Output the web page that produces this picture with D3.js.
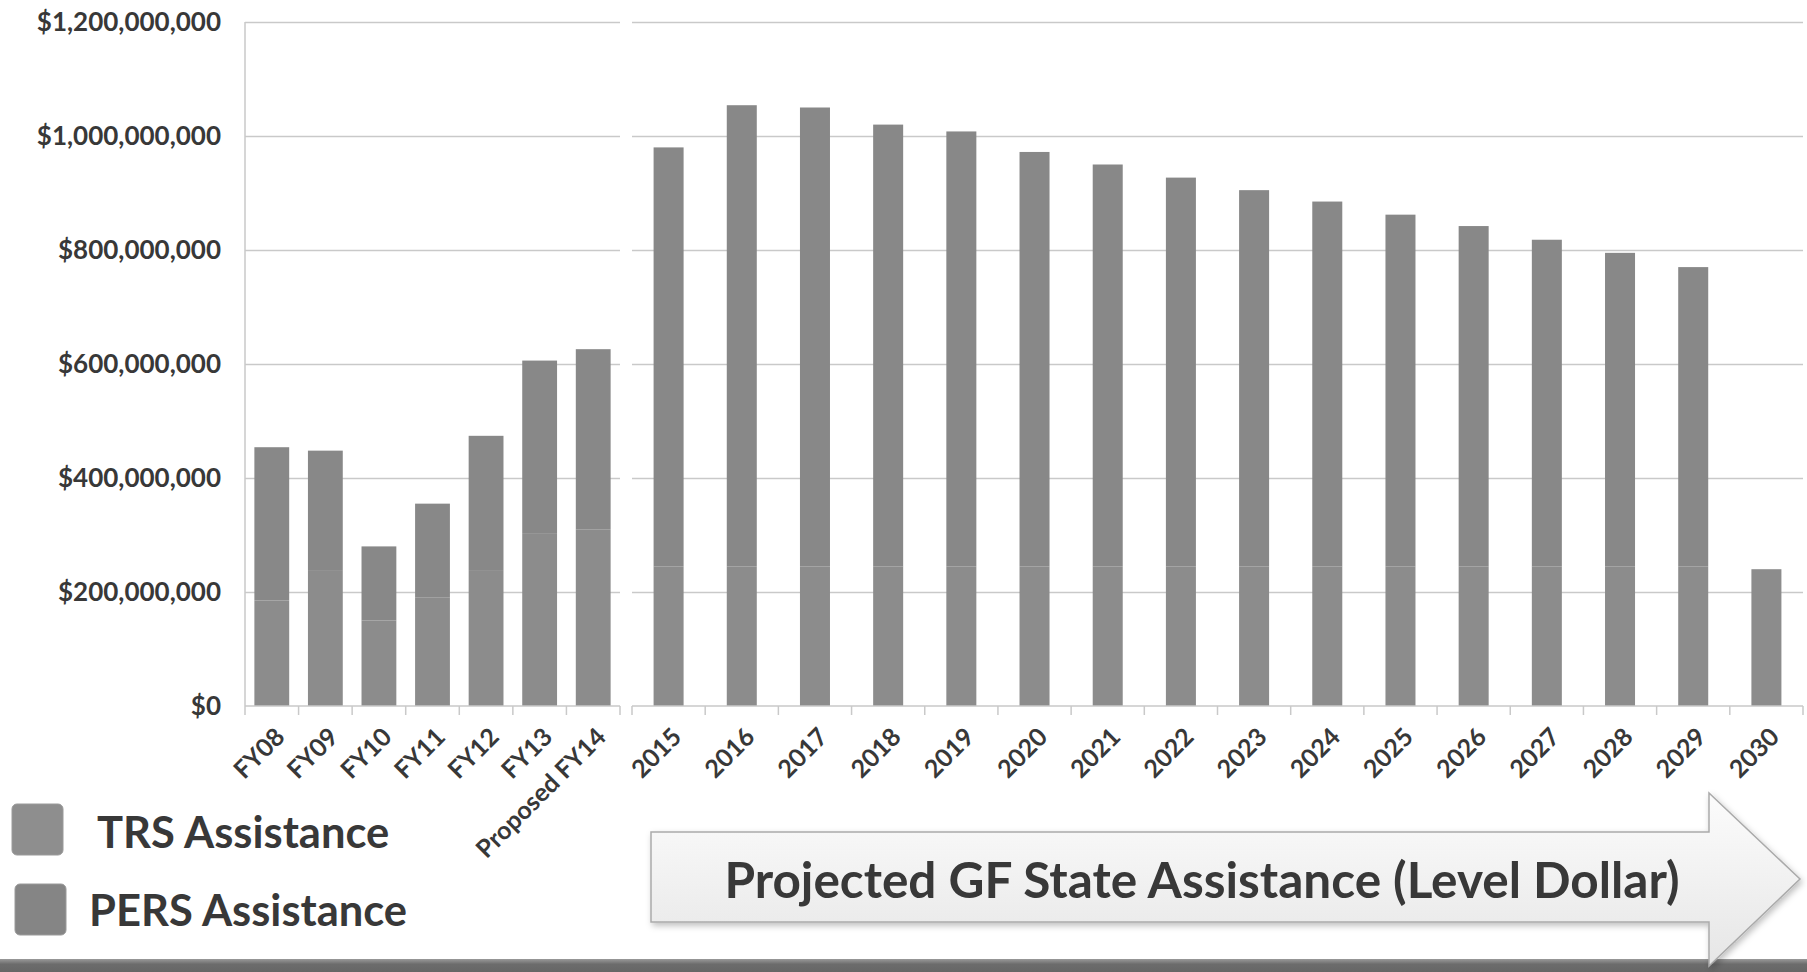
<!DOCTYPE html>
<html>
<head>
<meta charset="utf-8">
<script src="https://cdn.jsdelivr.net/npm/d3@7"></script>
<style>
    body { margin: 0; background: #fff; }
    svg { display: block; }
    text { font-family: Lato, "Open Sans", sans-serif; font-weight: 700; }
</style>
</head>
<body>
<div id="chart"></div>
<script>
// values in millions of dollars
const pastYears = ["FY08", "FY09", "FY10", "FY11", "FY12", "FY13", "Proposed FY14"];
const pastTrs = [185, 237, 150, 190, 237, 302, 310];
const pastPers = [269, 211, 130, 165, 237, 304, 316];

const projYears = ["2015", "2016", "2017", "2018", "2019", "2020", "2021", "2022",
    "2023", "2024", "2025", "2026", "2027", "2028", "2029", "2030"];
const projTrs = [245, 245, 245, 245, 245, 245, 245, 245, 245, 245, 245, 245, 245, 245, 245, 240];
const projPers = [735, 809, 805, 775, 763, 727, 705, 682, 660, 640, 617, 597, 573, 550, 525, 0];

const yTicks = [0, 200e6, 400e6, 600e6, 800e6, 1000e6, 1200e6];
const seriesNames = ["TRS Assistance", "PERS Assistance"];
const arrowTitle = "Projected GF State Assistance (Level Dollar)";

const width = 1807;
const height = 972;
const colors = { trs: "#8c8c8c", pers: "#888888" };
const gridColor = "#c9c9c9";
const textColor = "#383838";

const svg = d3
    .select("#chart")
    .append("svg")
    .attr("width", width)
    .attr("height", height);

const defs = svg.append("defs");
const grad = defs.append("linearGradient")
    .attr("id", "arrowFill")
    .attr("x1", 0).attr("y1", 0).attr("x2", 0).attr("y2", 1);
grad.append("stop").attr("offset", "0%").attr("stop-color", "#fcfcfc");
grad.append("stop").attr("offset", "100%").attr("stop-color", "#e6e6e6");

const bandGrad = defs.append("linearGradient")
    .attr("id", "bandFill")
    .attr("x1", 0).attr("y1", 0).attr("x2", 0).attr("y2", 1);
bandGrad.append("stop").attr("offset", "0%").attr("stop-color", "#9a9a9a");
bandGrad.append("stop").attr("offset", "40%").attr("stop-color", "#6c6c6c");
bandGrad.append("stop").attr("offset", "100%").attr("stop-color", "#666");

defs.append("filter")
    .attr("id", "shadow")
    .append("feDropShadow")
    .attr("dx", 2).attr("dy", 3).attr("stdDeviation", 3)
    .attr("flood-color", "#000").attr("flood-opacity", 0.25);

const y = d3.scaleLinear().domain([0, 1200e6]).range([706, 22]);

function drawPanel(years, trs, pers, x0, x1, padding) {
    const x = d3.scaleBand()
        .domain(years)
        .range([x0, x1])
        .paddingInner(padding)
        .paddingOuter(padding / 2);

    const g = svg.append("g");

    // gridlines
    g.append("g")
        .call(d3.axisLeft(y).tickValues(yTicks.slice(1)).tickSize(-(x1 - x0)).tickFormat(""))
        .attr("transform", `translate(${x0},0)`)
        .call(s => s.select(".domain").remove())
        .call(s => s.selectAll("line").attr("stroke", gridColor).attr("stroke-width", 1.5));

    const rows = years.map((d, i) => ({ year: d, trs: trs[i] * 1e6, pers: pers[i] * 1e6 }));

    g.selectAll(".trs")
        .data(rows)
        .enter()
        .append("rect")
        .attr("x", d => x(d.year))
        .attr("width", x.bandwidth())
        .attr("y", d => y(d.trs))
        .attr("height", d => y(0) - y(d.trs))
        .attr("fill", colors.trs);

    g.selectAll(".pers")
        .data(rows.filter(d => d.pers > 0))
        .enter()
        .append("rect")
        .attr("x", d => x(d.year))
        .attr("width", x.bandwidth())
        .attr("y", d => y(d.trs + d.pers))
        .attr("height", d => y(d.trs) - y(d.trs + d.pers))
        .attr("fill", colors.pers);

    // baseline with ticks between categories
    g.append("line")
        .attr("x1", x0).attr("x2", x1)
        .attr("y1", y(0)).attr("y2", y(0))
        .attr("stroke", gridColor).attr("stroke-width", 1.5);

    const step = x.step();
    g.selectAll(".tick-mark")
        .data(d3.range(years.length + 1))
        .enter()
        .append("line")
        .attr("x1", i => x0 + i * step)
        .attr("x2", i => x0 + i * step)
        .attr("y1", y(0))
        .attr("y2", y(0) + 9)
        .attr("stroke", gridColor)
        .attr("stroke-width", 1.5);

    g.selectAll(".xlabel")
        .data(years)
        .enter()
        .append("text")
        .attr("transform", d => `translate(${x(d) + x.bandwidth() / 2 + 2}, ${y(0) + 20}) rotate(-45)`)
        .attr("text-anchor", "end")
        .attr("dy", "0.7em")
        .attr("font-size", 25)
        .attr("fill", textColor)
        .text(d => d);
}

drawPanel(pastYears, pastTrs, pastPers, 245, 620, 0.35);
drawPanel(projYears, projTrs, projPers, 632, 1803, 0.59);

// left axis line
svg.append("line")
    .attr("x1", 245).attr("x2", 245)
    .attr("y1", y(1200e6)).attr("y2", y(0))
    .attr("stroke", gridColor).attr("stroke-width", 1.5);

// y axis labels
const yAxis = d3.axisLeft(y)
    .tickValues(yTicks)
    .tickSize(0)
    .tickPadding(24)
    .tickFormat(d => (d === 0 ? "$0" : d3.format("$,")(d)));

svg.append("g")
    .attr("transform", "translate(245,0)")
    .call(yAxis)
    .call(s => s.select(".domain").remove())
    .call(s => s.selectAll("text")
        .attr("font-size", 26)
        .attr("fill", textColor)
        .attr("font-family", "Lato, sans-serif")
        .attr("font-weight", 700));

// legend
const legend = svg.append("g");
const legendRows = [
    { name: seriesNames[0], color: "#8e8e8e", sx: 12, sy: 804, tx: 97, ty: 848 },
    { name: seriesNames[1], color: "#858585", sx: 15, sy: 884, tx: 89, ty: 926 }
];
legend.selectAll("rect")
    .data(legendRows)
    .enter()
    .append("rect")
    .attr("x", d => d.sx)
    .attr("y", d => d.sy)
    .attr("width", 51)
    .attr("height", 51)
    .attr("rx", 5)
    .attr("fill", d => d.color)
    .attr("stroke", "#9a9a9a");
legend.selectAll("text")
    .data(legendRows)
    .enter()
    .append("text")
    .attr("x", d => d.tx)
    .attr("y", d => d.ty)
    .attr("font-size", 43.5)
    .attr("fill", textColor)
    .text(d => d.name);

// bottom band
svg.append("rect")
    .attr("x", 0).attr("y", 959)
    .attr("width", width).attr("height", 13)
    .attr("fill", "url(#bandFill)");

// arrow
const arrowPts = [[651, 832], [1709, 832], [1709, 793], [1800, 879], [1709, 966], [1709, 922], [651, 922]];
svg.append("path")
    .attr("d", d3.line()(arrowPts) + "Z")
    .attr("fill", "url(#arrowFill)")
    .attr("stroke", "#aaa")
    .attr("stroke-width", 1.5)
    .attr("filter", "url(#shadow)");

svg.append("text")
    .attr("x", 1202)
    .attr("y", 898)
    .attr("text-anchor", "middle")
    .attr("font-size", 49.5)
    .attr("fill", textColor)
    .text(arrowTitle);
</script>
</body>
</html>
